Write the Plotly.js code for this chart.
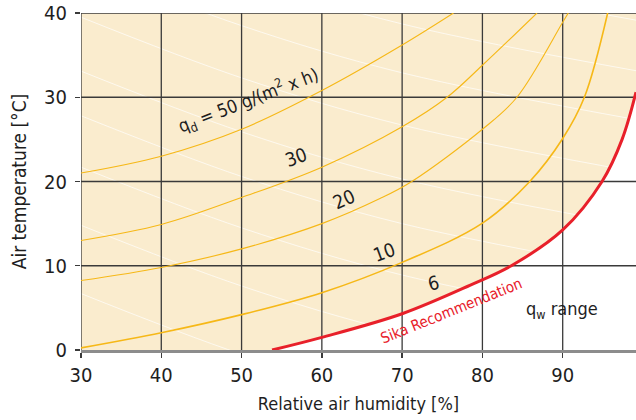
<!DOCTYPE html>
<html>
<head>
<meta charset="utf-8">
<script src="https://cdn.plot.ly/plotly-3.0.1.min.js"></script>
<style>html,body{margin:0;padding:0;background:#fff;}#chart{width:636px;height:420px;}</style>
</head>
<body>
<div id="chart"></div>
<script>
// ---- data ----
const xTicks = [30, 40, 50, 60, 70, 80, 90];
const yTicks = [0, 10, 20, 30, 40];
const xRange = [30, 99.13];
const yRange = [0, 40];

// q_d = 50 g/(m2 x h)
const q50RH = [30, 40, 50, 60, 70, 76.4];
const q50T  = [21.0, 23.0, 26.2, 30.8, 36.2, 40.0];
// q_d = 30
const q30RH = [30, 40, 50, 60, 70, 75.6, 80, 86.8];
const q30T  = [13.0, 14.9, 18.1, 21.7, 26.5, 30.0, 33.8, 40.0];
// q_d = 20
const q20RH = [30, 40, 50, 60, 67.3, 71.2, 80, 84.3, 90, 90.7];
const q20T  = [8.25, 9.8, 12.0, 15.0, 18.0, 20.0, 26.2, 30.0, 38.9, 40.0];
// q_d = 10
const q10RH = [30, 40, 50, 60, 70, 80, 85.9, 90, 92.7, 95.6];
const q10T  = [0.25, 2.05, 4.2, 6.8, 10.4, 15.05, 20.0, 25.1, 30.0, 40.0];
// q_d = 6 (Sika Recommendation)
const q6RH = [53.8, 60, 70, 78.5, 83.6, 90, 94.9, 97.4, 99.13];
const q6T  = [0.0, 1.5, 4.3, 7.7, 10.0, 14.25, 20.0, 25.0, 30.6];

// faint white guide lines (temperature at the RH values below)
const guideRH = [30, 50, 70, 100];
const guideT = [
  [57.5, 50.3, 44.7, 39.0],
  [51.5, 44.3, 38.7, 33.0],
  [45.7, 38.5, 32.9, 27.2],
  [39.5, 32.3, 26.7, 21.0],
  [33.1, 25.9, 20.3, 14.6],
  [27.8, 20.6, 15.0, 9.3],
  [21.7, 14.5, 8.9, 3.2],
  [14.8, 7.6, 2.0, -3.7],
  [6.7, -0.5, -6.1, -11.8]
];

const labelTexts = ['q<sub>d</sub> = 50 g/(m<sup>2</sup> x h)', '30', '20', '10', '6'];
const sikaText = 'Sika Recommendation';
const rangeText = 'q<sub>w</sub> range';
const xTitle = 'Relative air humidity [%]';
const yTitle = 'Air temperature [°C]';

// ---- drawing ----
const FONT = "'Liberation Sans Narrow', 'Arial Narrow', 'DejaVu Sans Condensed', 'Roboto Condensed', sans-serif";
const BEIGE = '#FAECCE';
const YELLOW = '#F6B817';
const RED = '#E8202A';
const GRID = '#3a3a3a';
const TXT = '#1e1e1e';

const traces = [];
// top boundary for the fill
traces.push({x: [xRange[0], xRange[1]], y: [yRange[1], yRange[1]], mode: 'lines',
  line: {width: 0, color: BEIGE}, hoverinfo: 'skip'});
// beige region above the red curve
traces.push({x: [xRange[0]].concat(q6RH), y: [yRange[0]].concat(q6T), mode: 'lines',
  fill: 'tonexty', fillcolor: BEIGE, line: {width: 0, color: BEIGE, shape: 'spline'}, hoverinfo: 'skip'});
// white guide lines
guideT.forEach(t => traces.push({x: guideRH, y: t, mode: 'lines',
  line: {width: 0.8, color: 'rgba(255,255,255,0.85)', shape: 'spline'}, hoverinfo: 'skip'}));
// grid (built from the tick arrays)
const gx = [], gy = [];
xTicks.forEach(v => { gx.push(v, v, null); gy.push(yRange[0], yRange[1], null); });
yTicks.filter(v => v > yRange[0]).forEach(v => { gx.push(xRange[0], xRange[1], null); gy.push(v, v, null); });
traces.push({x: gx, y: gy, mode: 'lines', line: {width: 1.3, color: GRID}, hoverinfo: 'skip', connectgaps: false});
// yellow q_d curves
[[q50RH, q50T, 1.1], [q30RH, q30T, 1.1], [q20RH, q20T, 1.1], [q10RH, q10T, 1.6]].forEach(c =>
  traces.push({x: c[0], y: c[1], mode: 'lines', line: {width: c[2], color: YELLOW, shape: 'spline'}, hoverinfo: 'skip'}));
// red Sika curve
traces.push({x: q6RH, y: q6T, mode: 'lines', line: {width: 3, color: RED, shape: 'spline'}, hoverinfo: 'skip'});

const ann = (x, y, text, angle, size, color) => ({x, y, xref: 'x', yref: 'y', text, showarrow: false,
  textangle: angle, font: {family: FONT, size, color: color || TXT}, xanchor: 'center', yanchor: 'middle'});

const layout = {
  width: 636, height: 420,
  margin: {l: 81, r: 0, t: 13, b: 70, pad: 0},
  paper_bgcolor: '#fff', plot_bgcolor: '#fff',
  showlegend: false,
  font: {family: FONT, color: TXT},
  xaxis: {range: xRange, tickvals: xTicks, ticktext: xTicks.map(String), ticks: 'outside', ticklen: 5,
    tickwidth: 1.3, tickcolor: GRID, showgrid: false, zeroline: false, showline: true,
    linecolor: '#8c8c8c', linewidth: 3, tickfont: {family: FONT, size: 20, color: TXT},
    title: {text: xTitle, font: {family: FONT, size: 18, color: TXT}, standoff: 12}, fixedrange: true, automargin: false},
  yaxis: {range: yRange, tickvals: yTicks, ticktext: yTicks.map(String), ticks: 'outside', ticklen: 5,
    tickwidth: 1.3, tickcolor: GRID, showgrid: false, zeroline: false, showline: false,
    tickfont: {family: FONT, size: 20, color: TXT}, ticklabelstandoff: 4,
    title: {text: yTitle, font: {family: FONT, size: 19, color: TXT}, standoff: 12}, fixedrange: true, automargin: false},
  annotations: [
    ann(50.86, 29.67, labelTexts[0], -21, 18),
    ann(56.78, 22.94, labelTexts[1], -20, 19),
    ann(62.76, 17.92, labelTexts[2], -24, 19),
    ann(67.74, 11.67, labelTexts[3], -20, 19),
    ann(73.85, 7.95, labelTexts[4], -15, 19),
    ann(76.09, 4.63, sikaText, -22, 15, RED),
    ann(89.92, 4.75, rangeText, 0, 18)
  ]
};

Plotly.newPlot('chart', traces, layout, {staticPlot: true, displayModeBar: false});
</script>
</body>
</html>
